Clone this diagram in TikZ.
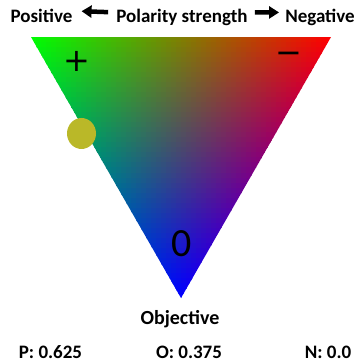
\documentclass[tikz,border=0pt]{standalone}
\usepackage{fontspec}
\setmainfont{Carlito}
\newfontfamily\signfont{DejaVu Sans}
\usepackage{tikz}
\usetikzlibrary{arrows.meta,positioning,calc}
\definecolor{dotolive}{RGB}{186,184,40}

\begin{document}
\begin{tikzpicture}[x=1pt, y=-1pt,
    lbl/.style={font=\fontsize{19}{22}\selectfont\bfseries, inner sep=0pt, anchor=base},
    val/.style={font=\fontsize{19}{22}\selectfont\bfseries, inner sep=0pt, anchor=base},
    sign/.style={font=\signfont\fontsize{32}{36}\selectfont, inner sep=0pt},
    polarrow/.style={line width=4.5pt, -{Triangle[length=10pt,width=12pt]}}]

\useasboundingbox (0,0) rectangle (357,363);

% green / red / blue triangle, filled cell by cell
\begin{scope}
\clip (31,37) coordinate (pcorner) -- (331,37) coordinate (ncorner)
  -- (181,298) coordinate (ocorner) -- cycle;
\foreach \i in {0,...,51}{
  \pgfmathsetmacro{\tv}{(\i+0.5)/52}
  \pgfmathtruncatemacro{\ja}{max(floor(30*\i/52)-1,0)}
  \pgfmathtruncatemacro{\jb}{min(60-floor(30*\i/52),59)}
  \foreach \j in {\ja,...,\jb}{
    \pgfmathsetmacro{\rr}{min(max((\j+0.5)/60-\tv/2,0),1)}
    \pgfmathsetmacro{\gg}{min(max(1-\tv-\rr,0),1)}
    \definecolor{cell}{rgb}{\rr,\gg,\tv}
    \fill[cell] (31+5*\j,37+261*\i/52) rectangle ++(5.6,5.6);
  }
}
\end{scope}

\node[lbl] (positive) at (41.5,23) {Positive};
\node[lbl] (polarity) at (182,23) {Polarity strength};
\node[lbl] (negative) at (320,23) {Negative};
\draw[polarrow, shorten <=8pt, shorten >=9pt] ($(polarity.west)+(0,-5.5)$) -- ($(positive.east)+(0,-5.5)$);
\draw[polarrow, shorten <=7pt, shorten >=6pt] ($(polarity.east)+(0,-5.5)$) -- ($(negative.west)+(0,-5.5)$);

\node[sign] (plus) at (77,61) {+};
\node[sign] (minus) at (289,57.5) {−};
\node[font=\fontsize{40}{44}\selectfont, inner sep=0pt] (zero) at (182,244) {0};

\fill[dotolive] (81.5,133.5) ellipse [x radius=14.5, y radius=15.5];

\node[lbl, font=\fontsize{20}{23}\selectfont\bfseries] (objective) at (180,324) {Objective};
\node[val] (pval) at (50.5,358.5) {P: 0.625};
\node[val] (oval) at (189,358.5) {O: 0.375};
\node[val] (nval) at (328,358.5) {N: 0.0};

\end{tikzpicture}
\end{document}
